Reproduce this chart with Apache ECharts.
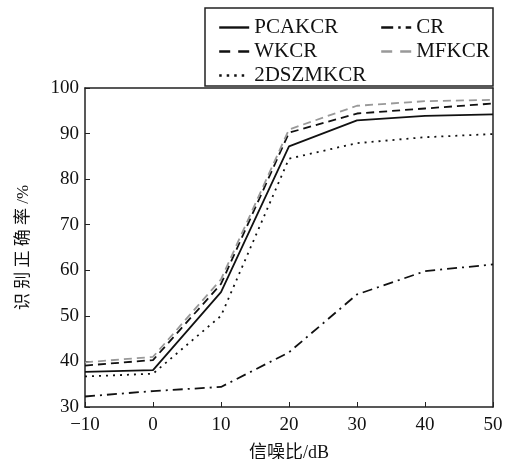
<!DOCTYPE html>
<html>
<head>
<meta charset="utf-8">
<script src="https://cdn.jsdelivr.net/npm/echarts@6/dist/echarts.min.js"></script>
<style>
html,body{margin:0;padding:0;background:#fff;}
#main{width:513px;height:459px;}
</style>
</head>
<body>
<div id="main"></div>
<script>
var snr = [-10, 0, 10, 20, 30, 40, 50];
var pcakcr = [37.7, 38.1, 55.2, 87.2, 92.9, 93.9, 94.2];
var wkcr = [39.1, 40.3, 57.0, 90.2, 94.4, 95.5, 96.6];
var mfkcr = [39.8, 41.0, 58.0, 90.9, 96.1, 97.1, 97.4];
var dszmkcr = [36.7, 37.3, 50.0, 84.5, 87.9, 89.2, 89.9];
var cr = [32.3, 33.5, 34.4, 42.0, 54.7, 59.8, 61.3];

var font = '"Liberation Serif", "Noto Sans CJK SC", serif';
var chart = echarts.init(document.getElementById('main'));

function pairs(vals) {
    return snr.map(function (x, i) { return [x, vals[i]]; });
}
function line(name, vals, color, type) {
    return {
        name: name,
        type: 'line',
        data: pairs(vals),
        symbol: 'none',
        animation: false,
        lineStyle: {color: color, width: 1.8, type: type},
        itemStyle: {color: color}
    };
}
// legend keys drawn a little bolder, with longer dashes like the original
function key(name, type) {
    return {name: name, lineStyle: {width: 2.4, type: type}};
}

var legendBase = {
    orient: 'vertical',
    top: 12,
    itemWidth: 30,
    itemHeight: 14,
    itemGap: 3,
    itemStyle: {opacity: 0},
    textStyle: {fontFamily: font, fontSize: 21, color: '#111'}
};

chart.setOption({
    backgroundColor: '#fff',
    grid: {left: 85, right: 20, top: 88, bottom: 52, outerBoundsMode: 'none', containLabel: false},
    graphic: [{
        type: 'rect',
        shape: {x: 205, y: 8, width: 288, height: 78},
        style: {fill: 'none', stroke: '#222', lineWidth: 1.5},
        z: 10
    }],
    legend: [
        Object.assign({left: 213, data: [
            key('PCAKCR', 'solid'), key('WKCR', [11, 8]), key('2DSZMKCR', [2.5, 5])
        ]}, legendBase),
        Object.assign({left: 375, data: [
            key('CR', [12, 5, 2.5, 5]), key('MFKCR', [11, 8])
        ]}, legendBase)
    ],
    xAxis: [{
        type: 'value', min: -10, max: 50, interval: 10,
        name: '信噪比/dB', nameLocation: 'middle', nameGap: 37,
        nameTextStyle: {fontFamily: font, fontSize: 18, color: '#111'},
        axisLine: {onZero: false, lineStyle: {color: '#222', width: 1.5}},
        axisTick: {inside: true, length: 5, lineStyle: {color: '#222'}},
        axisLabel: {fontFamily: font, fontSize: 19, color: '#111', margin: 9,
            formatter: function (v) { return String(v).replace('-', '\u2212'); }},
        splitLine: {show: false}
    }, {
        type: 'value', position: 'top', min: -10, max: 50,
        axisLine: {show: true, onZero: false, lineStyle: {color: '#222', width: 1.5}},
        axisTick: {show: false}, axisLabel: {show: false}, splitLine: {show: false}
    }],
    yAxis: [{
        type: 'value', min: 30, max: 100, interval: 10,
        name: '识 别 正 确 率 /%', nameLocation: 'middle', nameGap: 53,
        nameTextStyle: {fontFamily: font, fontSize: 17, color: '#111'},
        axisLine: {show: true, onZero: false, lineStyle: {color: '#222', width: 1.5}},
        axisTick: {show: true, inside: true, length: 5, lineStyle: {color: '#222'}},
        axisLabel: {fontFamily: font, fontSize: 19, color: '#111', margin: 6},
        splitLine: {show: false}
    }, {
        type: 'value', position: 'right', min: 30, max: 100,
        axisLine: {show: true, onZero: false, lineStyle: {color: '#222', width: 1.5}},
        axisTick: {show: false}, axisLabel: {show: false}, splitLine: {show: false}
    }],
    series: [
        line('PCAKCR', pcakcr, '#111', 'solid'),
        line('WKCR', wkcr, '#111', [8, 5]),
        line('2DSZMKCR', dszmkcr, '#111', [2, 5]),
        line('CR', cr, '#111', [10, 5, 2, 5]),
        line('MFKCR', mfkcr, '#999', [8, 5])
    ]
});
</script>
</body>
</html>
